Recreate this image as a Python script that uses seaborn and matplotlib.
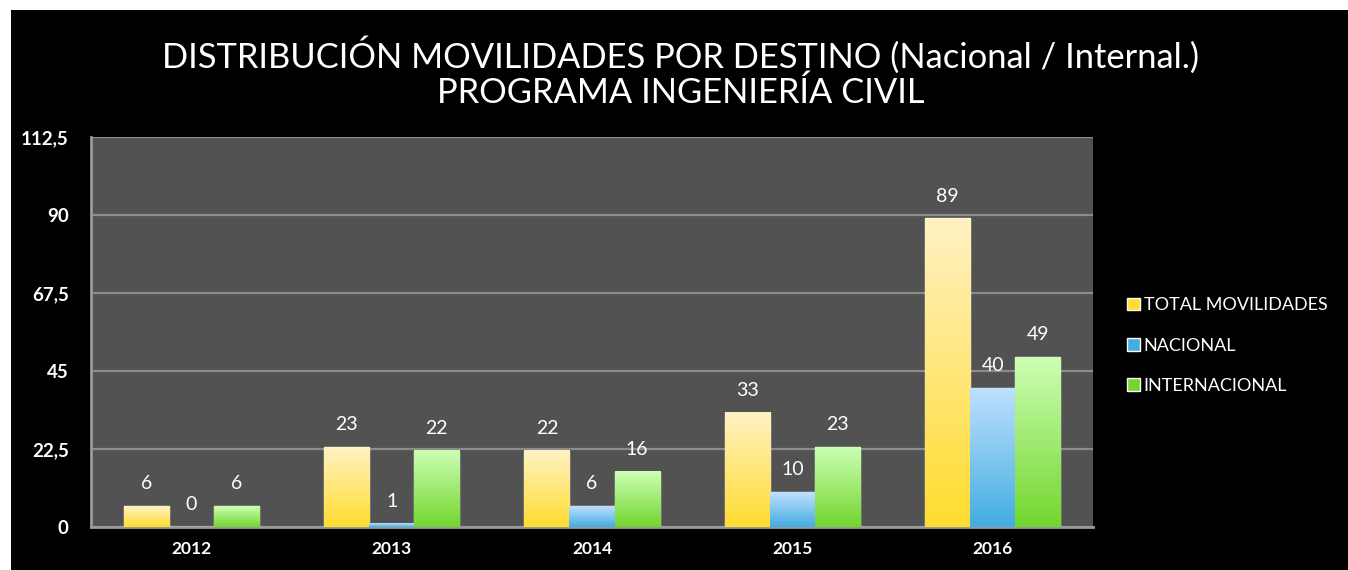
import matplotlib
matplotlib.use("Agg")
import matplotlib.pyplot as plt
import numpy as np
import pandas as pd
import seaborn as sns
from matplotlib.colors import LinearSegmentedColormap
from matplotlib.patches import Rectangle

YEARS = ["2012", "2013", "2014", "2015", "2016"]
SERIES = ["TOTAL MOVILIDADES", "NACIONAL", "INTERNACIONAL"]
TOTAL = [6, 23, 22, 33, 89]
NACIONAL = [0, 1, 6, 10, 40]
INTERNACIONAL = [6, 22, 16, 23, 49]
Y_TICKS = [0, 22.5, 45, 67.5, 90, 112.5]
Y_TICK_LABELS = ["0", "22,5", "45", "67,5", "90", "112,5"]
TITLE = "DISTRIBUCIÓN MOVILIDADES POR DESTINO (Nacional / Internal.)\nPROGRAMA INGENIERÍA CIVIL"

# (top colour, bottom colour) of each bar gradient
GRADIENTS = {
    "TOTAL MOVILIDADES": ("#fff2c4", "#ffdc2e"),
    "NACIONAL": ("#bfe0ff", "#42ade0"),
    "INTERNACIONAL": ("#ccffb4", "#72d62e"),
}

df = pd.DataFrame({
    "year": YEARS * 3,
    "series": [s for s in SERIES for _ in YEARS],
    "value": TOTAL + NACIONAL + INTERNACIONAL,
})

sns.set_theme(style="dark")
plt.rcParams["font.family"] = ["Lato", "DejaVu Sans"]

fig = plt.figure(figsize=(13.48, 5.70), dpi=100, facecolor="white")
fig.patches.append(Rectangle((11 / 1348, 0), 1, 1 - 10 / 570, transform=fig.transFigure,
                             facecolor="black", edgecolor="none", zorder=-10))
ax = fig.add_axes([91 / 1348, 43 / 570, 1002 / 1348, 390 / 570])
ax.set_facecolor("#525252")

palette = {k: v[1] for k, v in GRADIENTS.items()}
sns.barplot(data=df, x="year", y="value", hue="series", hue_order=SERIES,
            palette=palette, width=0.674, gap=0, saturation=1, ax=ax,
            legend=True, zorder=3)

# paint gradients over bars and put value labels
for container, name in zip(ax.containers, SERIES):
    top_c, bot_c = GRADIENTS[name]
    cmap = LinearSegmentedColormap.from_list(name, [bot_c, top_c])
    grad = np.linspace(0, 1, 256).reshape(-1, 1)
    for bar in container:
        x0, w, h = bar.get_x(), bar.get_width(), bar.get_height()
        if h > 0:
            ax.imshow(grad, cmap=cmap, origin="lower", aspect="auto",
                      extent=(x0, x0 + w, 0, h), zorder=4)
        ax.annotate(f"{h:g}", (x0 + w / 2, h), xytext=(0, 10), textcoords="offset points",
                    ha="center", va="bottom", color="white", fontsize=14, zorder=5)

ax.set_xlim(-0.5, 4.5)
ax.set_ylim(0, 112.5)
ax.set_yticks(Y_TICKS)
ax.set_yticklabels(Y_TICK_LABELS)
ax.grid(axis="y", color="#8c8c8c", linewidth=1.6, zorder=1)
ax.grid(axis="x", visible=False)
ax.tick_params(colors="white", length=0)
ax.tick_params(axis="y", labelsize=13.5, pad=16)
ax.tick_params(axis="x", labelsize=12.5, pad=10)
for lbl in ax.get_xticklabels() + ax.get_yticklabels():
    lbl.set_fontweight("bold")
    lbl.set_color("white")
ax.set_xlabel("")
ax.set_ylabel("")
for side in ["top", "right"]:
    ax.spines[side].set_visible(False)
for side in ["left", "bottom"]:
    ax.spines[side].set_visible(True)
    ax.spines[side].set_color("#9a9a9a")
    ax.spines[side].set_linewidth(2)

leg = ax.legend(loc="center left", bbox_to_anchor=(1.018, 0.465), frameon=False,
                fontsize=13, handlelength=0.7, handleheight=0.7, handletextpad=0.2,
                labelspacing=1.35)
for text in leg.get_texts():
    text.set_color("white")

fig.text(0.505, 0.873, TITLE, ha="center", va="center", color="white",
         fontsize=24.8, fontweight="normal", linespacing=1.08)

fig.savefig("out.png", dpi=100, facecolor=fig.get_facecolor())
